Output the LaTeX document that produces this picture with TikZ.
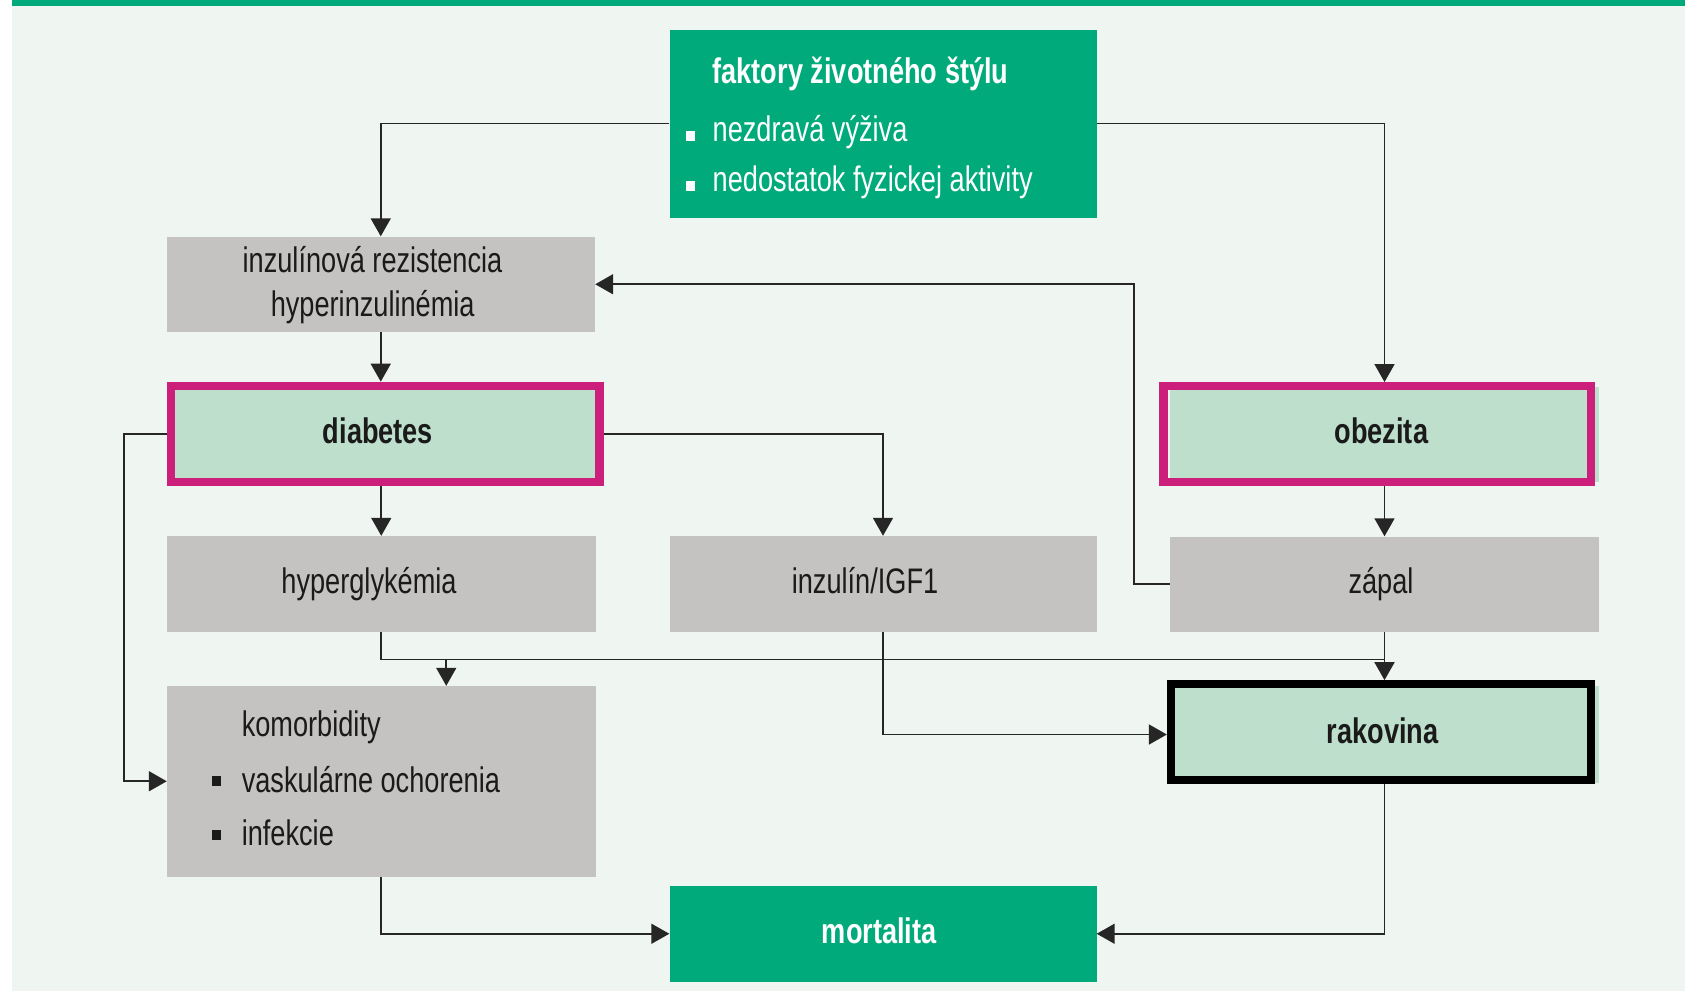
\documentclass[tikz,border=0pt]{standalone}
\usepackage{fontspec}
\setmainfont{Liberation Sans}[FakeStretch=0.765]
\usetikzlibrary{arrows.meta,calc}
\definecolor{bgc}{HTML}{EFF5F1}
\definecolor{grn}{HTML}{00AA7A}
\definecolor{gry}{HTML}{C5C3C1}
\definecolor{lgrn}{HTML}{BEDFCC}
\definecolor{mag}{HTML}{CC1F7B}
\definecolor{lnc}{HTML}{262626}
\definecolor{txt}{HTML}{1A1A1A}
\begin{document}
\begin{tikzpicture}[x=1pt,y=-1pt,
  fbox/.style={rectangle, inner sep=0pt, draw=none},
  hframe/.style={rectangle, inner sep=0pt, line width=8.3pt, fill=none},
  lbl/.style={inner sep=0pt, font=\fontsize{35.5}{40}\selectfont, text=txt},
  blbl/.style={inner sep=0pt, font=\fontsize{35.5}{40}\selectfont\bfseries, text=txt},
  bul/.style={rectangle, inner sep=0pt, minimum width=9.5pt, minimum height=9.5pt},
  conn/.style={draw=lnc, line width=1.7pt},
  arr/.style={conn, -{Triangle[width=20pt,length=18pt]}},
]
\useasboundingbox (0,0) rectangle (1685,991);
\fill[white] (0,0) rectangle (1685,991);
\fill[bgc] (12,6) rectangle (1685,991);
\fill[grn] (12,0) rectangle (1685,6);

% boxes
\node[fbox, fill=grn, minimum width=427pt, minimum height=188pt] (life) at (883,123.5) {};
\node[fbox, fill=gry, minimum width=428.5pt, minimum height=95.5pt] (inzul) at (380.75,284.25) {};
\node[fbox, fill=lgrn, minimum width=428pt, minimum height=95.5pt] (diabfill) at (381,434.25) {};
\node[fbox, fill=lgrn, minimum width=429pt, minimum height=95pt] (obfill) at (1384.5,434.2) {};
\node[fbox, fill=gry, minimum width=428.5pt, minimum height=96pt] (hyper) at (381.25,584) {};
\node[fbox, fill=gry, minimum width=427pt, minimum height=96pt] (igf) at (883,584) {};
\node[fbox, fill=gry, minimum width=429pt, minimum height=95.5pt] (zapal) at (1384.5,584.25) {};
\node[fbox, fill=lgrn, minimum width=429pt, minimum height=97pt] (rakfill) at (1384.5,734.5) {};
\node[fbox, fill=gry, minimum width=428.5pt, minimum height=190.5pt] (komorb) at (381.25,781.25) {};
\node[fbox, fill=grn, minimum width=427pt, minimum height=95.5pt] (mort) at (883,933.75) {};

% frames
\node[hframe, draw=mag, minimum width=428.2pt, minimum height=96pt] (diabframe) at (385.3,433.8) {};
\node[hframe, draw=mag, minimum width=427.5pt, minimum height=95.6pt] (obframe) at (1377.25,434) {};
\node[hframe, draw=black, minimum width=420pt, minimum height=95.4pt] (rakframe) at (1381,732) {};

% connectors
\draw[arr] (life.west) -| (inzul.north);
\draw[arr] (life.east) -| (obfill.north |- obframe.north);
\draw[arr] (inzul.south) -- (inzul.south |- diabframe.north);
\draw[arr] (hyper.north |- diabframe.south) -- (hyper.north);
\draw[arr] (diabframe.east) -| (igf.north);
\draw[arr] (diabframe.west) -- ([xshift=-43pt]diabframe.west) |- (komorb.west);
\draw[arr] (zapal.north |- obframe.south) -- (zapal.north);
\draw[arr] (zapal.west) -- ([xshift=-36pt]zapal.west) |- (inzul.east);
\coordinate (bus) at ([yshift=-27.3pt]hyper.south);
\coordinate (kin) at ([xshift=65pt]komorb.north);
\draw[conn] (hyper.south) -- (bus) -- (bus -| zapal.south);
\draw[arr] (kin |- bus) -- (kin);
\draw[arr] (zapal.south) -- (zapal.south |- rakframe.north);
\draw[arr] (igf.south) |- (rakframe.west |- rakfill.west);
\draw[arr] (komorb.south) |- (mort.west);
\draw[arr] (rakfill.south |- rakframe.south) |- (mort.east);

% texts
\node[blbl, text=white, anchor=base west] (t0) at (712.5,83.3) {faktory životného štýlu};
\node[lbl, text=white, anchor=base west] (t1) at (712.5,141.7) {nezdravá výživa};
\node[lbl, text=white, anchor=base west] (t2) at (712.5,191.7) {nedostatok fyzickej aktivity};
\node[bul, fill=white] (b1) at (690.4,136.2) {};
\node[bul, fill=white] (b2) at (690.4,186.2) {};
\node[lbl, anchor=base] (i1) at (372.5,272.5) {inzulínová rezistencia};
\node[lbl, anchor=base] (i2) at (372.7,316) {hyperinzulinémia};
\node[blbl, anchor=base] (dt) at (378,443.5) {diabetes};
\node[blbl, anchor=base] (ot) at (1381.3,443.5) {obezita};
\node[lbl, anchor=base] (ht) at (369,593) {hyperglykémia};
\node[lbl, anchor=base] (gt) at (865,593) {inzulín/IGF1};
\node[lbl, anchor=base] (zt) at (1381,593.5) {zápal};
\node[blbl, anchor=base] (rt) at (1382.8,743.3) {rakovina};
\node[lbl, anchor=base west] (k0) at (241.6,736.5) {komorbidity};
\node[lbl, anchor=base west] (k1) at (241.6,792) {vaskulárne ochorenia};
\node[lbl, anchor=base west] (k2) at (241.6,845.5) {infekcie};
\node[bul, fill=txt] (kb1) at (216.7,781) {};
\node[bul, fill=txt] (kb2) at (216.7,835) {};
\node[blbl, text=white, anchor=base] (mt) at (879.3,943.8) {mortalita};
\end{tikzpicture}
\end{document}
